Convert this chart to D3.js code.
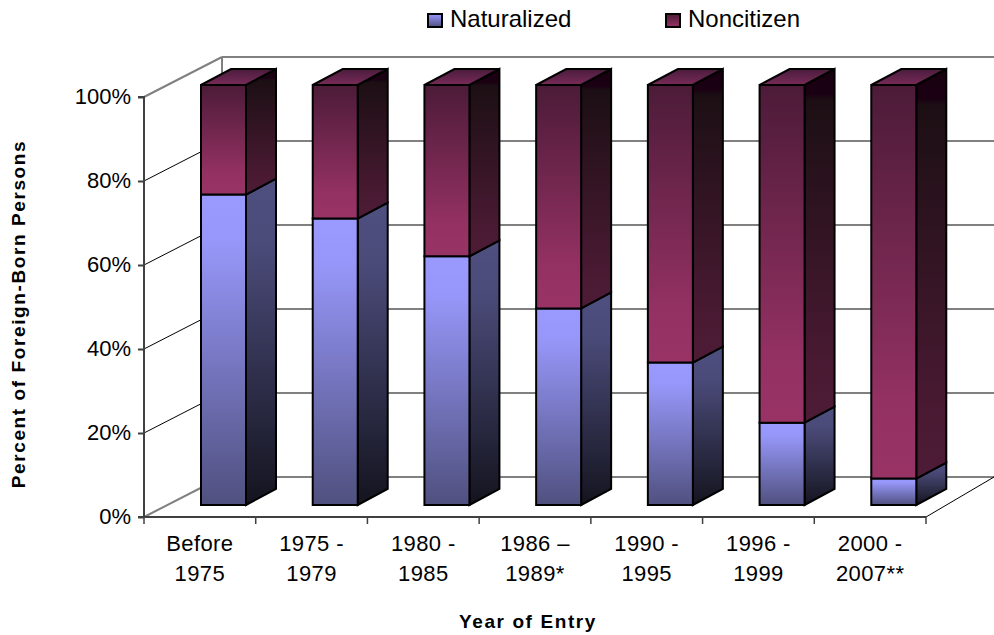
<!DOCTYPE html>
<html><head><meta charset="utf-8">
<script src="https://cdn.jsdelivr.net/npm/d3@7/dist/d3.min.js"></script>
<style>html,body{margin:0;padding:0;background:#fff}svg{display:block}text{font-family:"Liberation Sans",Arial,sans-serif;fill:#000}</style>
</head><body><div id="c"></div>
<script>
const categories=[["Before","1975"],["1975 -","1979"],["1980 -","1985"],["1986 –","1989*"],["1990 -","1995"],["1996 -","1999"],["2000 -","2007**"]];
const naturalized=[73.9,68.2,59.2,46.8,33.9,19.6,6.3];
const noncitizen=[26.1,31.8,40.8,53.2,66.1,80.4,93.7];
const seriesNames=["Naturalized","Noncitizen"];
const yTicks=[0,20,40,60,80,100];

const W=994,H=635;
const svg=d3.select("#c").append("svg").attr("width",W).attr("height",H);
const x=d3.scaleBand().domain(categories.map((d,i)=>i)).range([144,926]);
const y=d3.scaleLinear().domain([0,100]).range([517,97]);
const wall={dx:78,dy:-40}, bar={left:57,dy:-12,w:45,dx:30,dy2:-16};

const defs=svg.append("defs");
function grad(id,stops){
  const g=defs.append("linearGradient").attr("id",id).attr("x1",0).attr("y1",0).attr("x2",0).attr("y2",1);
  stops.forEach(s=>g.append("stop").attr("offset",s[0]).attr("stop-color",s[1]));
}
grad("nF",[[0,"#9999ff"],[0.15,"#9797fa"],[1,"#50507f"]]);
grad("nS",[[0,"#4f4f80"],[0.2,"#4b4b7a"],[1,"#14141f"]]);
grad("cF",[[0,"#4c1b38"],[0.8,"#933162"],[1,"#993366"]]);
grad("cS",[[0,"#190010"],[0.07,"#1a0012"],[0.09,"#1c0f14"],[0.85,"#4a1a33"],[1,"#4d1b35"]]);
grad("cT",[[0,"#4a1c3c"],[1,"#782b58"]]);
grad("lN",[[0,"#9999ff"],[1,"#50507f"]]);
grad("lC",[[0,"#4c1b38"],[1,"#993366"]]);

const g=svg.append("g");
const gray="#808080";
yTicks.forEach(t=>{
  g.append("line").attr("x1",144+wall.dx).attr("x2",W).attr("y1",y(t)+wall.dy).attr("y2",y(t)+wall.dy)
   .attr("stroke",gray).attr("stroke-width",2);
  const edge=t===0||t===100;
  g.append("line").attr("x1",144).attr("y1",y(t)).attr("x2",144+wall.dx).attr("y2",y(t)+wall.dy)
   .attr("stroke",edge?gray:"#000").attr("stroke-width",edge?2:1);
});
g.append("line").attr("x1",144+wall.dx).attr("x2",144+wall.dx).attr("y1",y(100)+wall.dy).attr("y2",y(0)+wall.dy)
 .attr("stroke",gray).attr("stroke-width",2);
g.append("line").attr("x1",926).attr("y1",y(0)).attr("x2",W).attr("y2",y(0)+wall.dy).attr("stroke","#000").attr("stroke-width",1);

const yAxis=d3.axisLeft(y).tickValues(yTicks).tickSize(6).tickFormat(d=>d+"%");
const ya=svg.append("g").attr("transform","translate(144,0)").call(yAxis);
ya.selectAll("path,line").attr("stroke","#404040").attr("stroke-width",2);
ya.select("path").attr("d",`M-6,${y(100)}H0V${y(0)}H-6`).attr("fill","none");
ya.selectAll("text").attr("font-size",22).attr("x",-13).attr("y",-1).attr("dy","0.36em").style("font-family",'"Liberation Sans",Arial,sans-serif');

const xa=svg.append("g").attr("transform",`translate(0,${y(0)})`);
xa.append("line").attr("x1",144).attr("x2",926).attr("stroke","#404040").attr("stroke-width",2);
d3.range(8).forEach(i=>{
  const px=i<7?x(i):926;
  xa.append("line").attr("x1",px).attr("x2",px).attr("y2",7).attr("stroke","#404040").attr("stroke-width",1.5);
});
categories.forEach((c,i)=>{
  const t=svg.append("text").attr("text-anchor","middle").attr("font-size",22).attr("letter-spacing",0.4);
  c.forEach((l,j)=>t.append("tspan").attr("x",x(i)+x.bandwidth()/2).attr("y",551+j*30).text(l));
});

function seg(i,v0,v1,front,side,top){
  const L=x(i)+bar.left,R=L+bar.w;
  const Y0=y(v0)+bar.dy,Y1=y(v1)+bar.dy;
  const add=(pts,fill)=>svg.append("polygon").attr("points",pts.join(" ")).attr("fill",fill)
    .attr("stroke","#000").attr("stroke-width",2).attr("stroke-linejoin","miter");
  add([[R,Y1],[R+bar.dx,Y1+bar.dy2],[R+bar.dx,Y0+bar.dy2],[R,Y0]],`url(#${side})`);
  add([[L,Y1],[R,Y1],[R,Y0],[L,Y0]],`url(#${front})`);
  if(top) add([[L,Y1],[L+bar.dx,Y1+bar.dy2],[R+bar.dx,Y1+bar.dy2],[R,Y1]],`url(#${top})`);
}
categories.forEach((c,i)=>{
  seg(i,0,naturalized[i],"nF","nS");
  seg(i,naturalized[i],naturalized[i]+noncitizen[i],"cF","cS","cT");
});

const legendX=[427,665],legendFill=["lN","lC"];
seriesNames.forEach((s,i)=>{
  svg.append("rect").attr("x",legendX[i]+1).attr("y",14).attr("width",14).attr("height",13)
    .attr("fill",`url(#${legendFill[i]})`).attr("stroke","#000").attr("stroke-width",2);
  svg.append("text").attr("x",legendX[i]+23).attr("y",27).attr("font-size",24).text(s);
});

svg.append("text").attr("x",528).attr("y",628).attr("text-anchor","middle").attr("font-size",19)
  .attr("font-weight","bold").attr("letter-spacing",1.6).text("Year of Entry");
svg.append("text").attr("transform","translate(25,314) rotate(-90)").attr("text-anchor","middle").attr("font-size",19)
  .attr("font-weight","bold").attr("letter-spacing",1.6).text("Percent of Foreign-Born Persons");
</script></body></html>
